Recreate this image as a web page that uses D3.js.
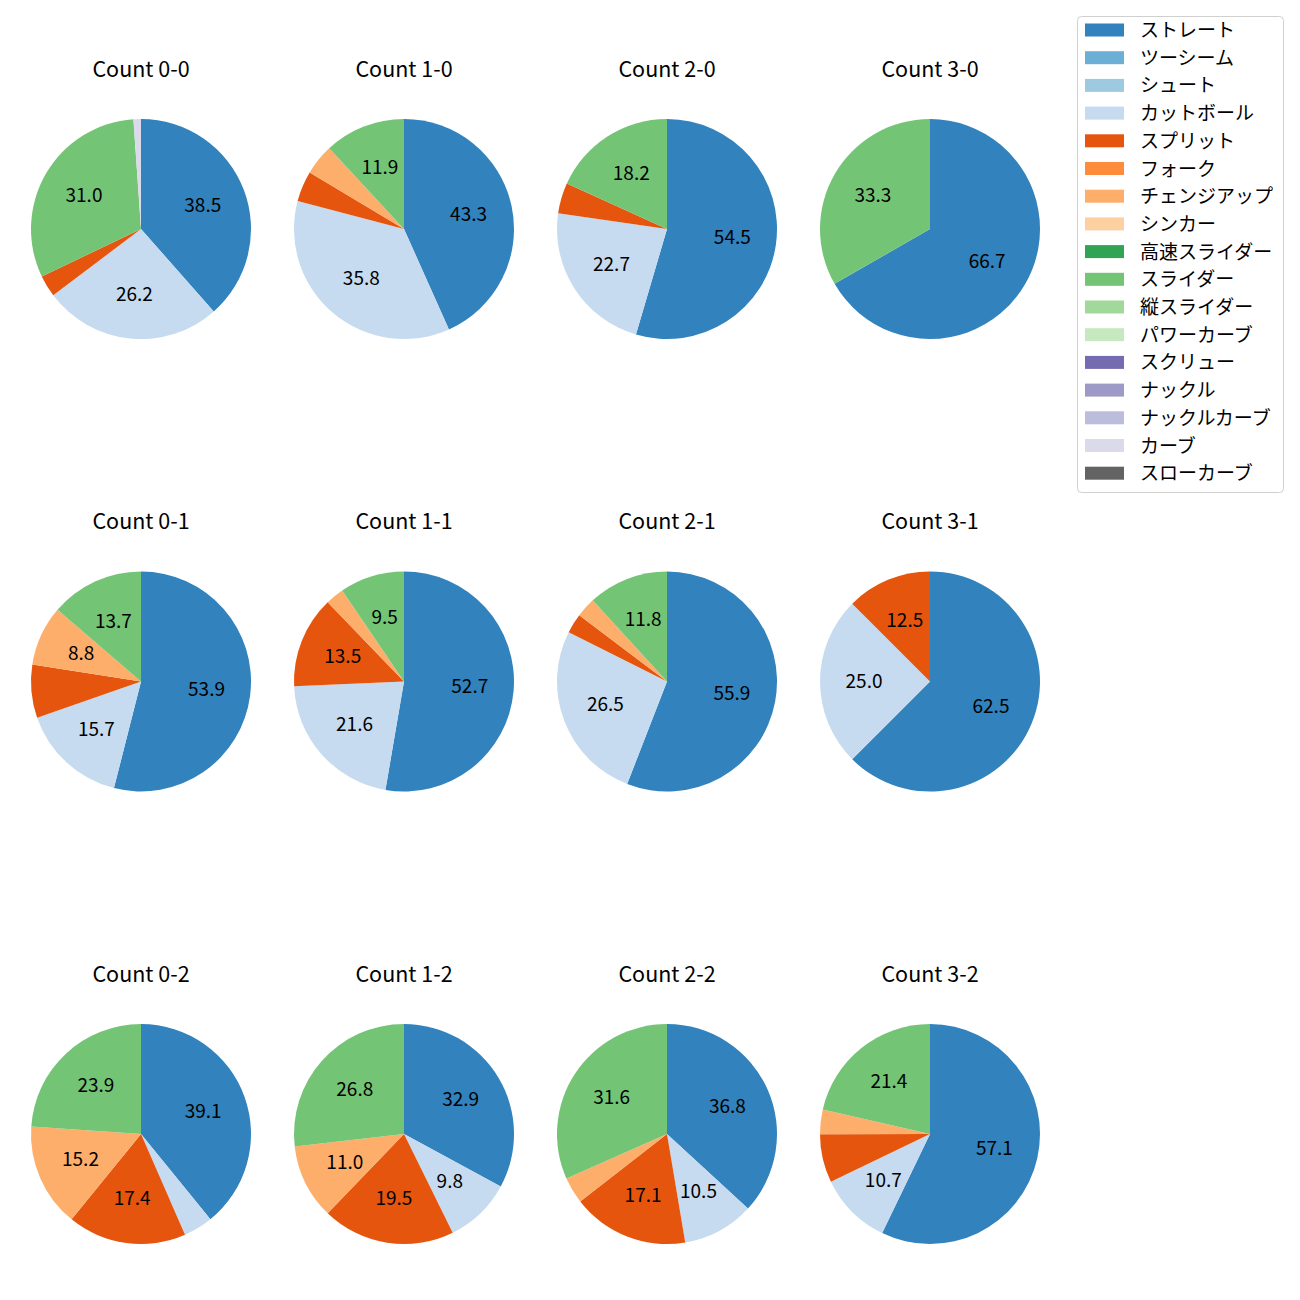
<!DOCTYPE html>
<html>
<head>
<meta charset="utf-8">
<script src="https://cdn.jsdelivr.net/npm/d3@7"></script>
<style>
  body { margin: 0; background: #fff; }
  svg { font-family: "Noto Sans CJK JP", "Noto Sans", sans-serif; }
</style>
</head>
<body>
<div id="viz"></div>
<script>
var pitchTypes = ['ストレート', 'ツーシーム', 'シュート', 'カットボール', 'スプリット', 'フォーク',
    'チェンジアップ', 'シンカー', '高速スライダー', 'スライダー', '縦スライダー', 'パワーカーブ',
    'スクリュー', 'ナックル', 'ナックルカーブ', 'カーブ', 'スローカーブ'];

var countLabels = ['0-0', '1-0', '2-0', '3-0', '0-1', '1-1', '2-1', '3-1', '0-2', '1-2', '2-2', '3-2'];

// share (%) per pitch type, same order as pitchTypes
var c00 = [38.5, 0, 0, 26.2, 3.2, 0, 0, 0, 0, 31.0, 0, 0, 0, 0, 0, 1.1, 0];
var c10 = [43.3, 0, 0, 35.8, 4.5, 0, 4.5, 0, 0, 11.9, 0, 0, 0, 0, 0, 0, 0];
var c20 = [54.5, 0, 0, 22.7, 4.5, 0, 0, 0, 0, 18.2, 0, 0, 0, 0, 0, 0, 0];
var c30 = [66.7, 0, 0, 0, 0, 0, 0, 0, 0, 33.3, 0, 0, 0, 0, 0, 0, 0];
var c01 = [53.9, 0, 0, 15.7, 7.8, 0, 8.8, 0, 0, 13.7, 0, 0, 0, 0, 0, 0, 0];
var c11 = [52.7, 0, 0, 21.6, 13.5, 0, 2.7, 0, 0, 9.5, 0, 0, 0, 0, 0, 0, 0];
var c21 = [55.9, 0, 0, 26.5, 2.9, 0, 2.9, 0, 0, 11.8, 0, 0, 0, 0, 0, 0, 0];
var c31 = [62.5, 0, 0, 25.0, 12.5, 0, 0, 0, 0, 0, 0, 0, 0, 0, 0, 0, 0];
var c02 = [39.1, 0, 0, 4.3, 17.4, 0, 15.2, 0, 0, 23.9, 0, 0, 0, 0, 0, 0, 0];
var c12 = [32.9, 0, 0, 9.8, 19.5, 0, 11.0, 0, 0, 26.8, 0, 0, 0, 0, 0, 0, 0];
var c22 = [36.8, 0, 0, 10.5, 17.1, 0, 3.9, 0, 0, 31.6, 0, 0, 0, 0, 0, 0, 0];
var c32 = [57.1, 0, 0, 10.7, 7.1, 0, 3.6, 0, 0, 21.4, 0, 0, 0, 0, 0, 0, 0];

var countData = [c00, c10, c20, c30, c01, c11, c21, c31, c02, c12, c22, c32];

var width = 1300,
    height = 1300,
    radius = 110;

var colors = d3.scaleOrdinal()
    .domain(pitchTypes)
    .range(['#3182bd', '#6baed6', '#9ecae1', '#c6dbef', '#e6550d', '#fd8d3c', '#fdae6b', '#fdd0a2',
        '#31a354', '#74c476', '#a1d99b', '#c7e9c0', '#756bb1', '#9e9ac8', '#bcbddc', '#dadaeb', '#636363']);

var xScale = d3.scaleLinear().domain([0, 3]).range([141, 930]);
var yScale = d3.scaleLinear().domain([0, 2]).range([229, 1134]);

var svg = d3.select('#viz').append('svg')
    .attr('width', width)
    .attr('height', height);

var pie = d3.pie()
    .sort(null)
    .value(function(d){ return d; });

var arc = d3.arc().innerRadius(0).outerRadius(radius);
var labelArc = d3.arc().innerRadius(radius * 0.6).outerRadius(radius * 0.6);

countData.forEach(function(values, i){
    var cx = xScale(i % 4),
        cy = yScale(Math.floor(i / 4));

    svg.append('text')
        .attr('x', cx)
        .attr('y', cy - 162)
        .attr('text-anchor', 'middle')
        .attr('dominant-baseline', 'central')
        .style('font-size', '21.5px')
        .text('Count ' + countLabels[i]);

    var g = svg.append('g')
        .attr('transform', 'translate(' + cx + ',' + cy + ')');

    var slices = pie(values).map(function(s, j){ s.name = pitchTypes[j]; return s; })
        .filter(function(s){ return s.value > 0; });

    g.selectAll('path')
        .data(slices)
        .enter().append('path')
        .attr('d', arc)
        .attr('fill', function(d){ return colors(d.name); });

    g.selectAll('text')
        .data(slices.filter(function(s){ return s.value >= 8; }))
        .enter().append('text')
        .attr('transform', function(d){ return 'translate(' + labelArc.centroid(d) + ')'; })
        .attr('dy', -2.5)
        .attr('text-anchor', 'middle')
        .attr('dominant-baseline', 'central')
        .style('font-size', '19px')
        .text(function(d){ return d.value.toFixed(1); });
});

// legend
var legend = svg.append('g').attr('transform', 'translate(1077,16)');
legend.append('rect')
    .attr('x', 0.5)
    .attr('y', 0.5)
    .attr('width', 206)
    .attr('height', 476)
    .attr('rx', 4)
    .attr('fill', '#fff')
    .attr('stroke', '#d0d0d0');

var items = legend.selectAll('g.item')
    .data(pitchTypes)
    .enter().append('g')
    .attr('class', 'item')
    .attr('transform', function(d, i){ return 'translate(0,' + (14 + i * 27.7) + ')'; });

items.append('rect')
    .attr('x', 8)
    .attr('y', -6.5)
    .attr('width', 39)
    .attr('height', 13)
    .attr('fill', function(d){ return colors(d); });

items.append('text')
    .attr('x', 63)
    .attr('y', -1.5)
    .attr('dominant-baseline', 'central')
    .style('font-size', '19px')
    .text(function(d){ return d; });
</script>
</body>
</html>
